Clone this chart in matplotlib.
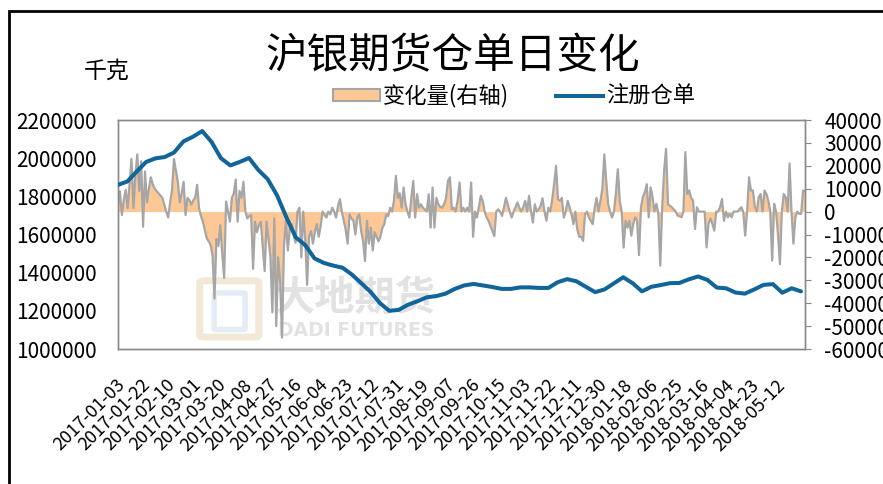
import matplotlib
matplotlib.use('Agg')
import matplotlib.pyplot as plt
import numpy as np
import pandas as pd
from matplotlib.patches import Patch, Rectangle, FancyBboxPatch
from matplotlib.lines import Line2D
from matplotlib.transforms import ScaledTranslation

plt.rcParams['font.family'] = ['Noto Sans CJK SC', 'DejaVu Sans']

# 注册仓单 (kg)
reg_dates = pd.date_range('2017-01-03', periods=74, freq='7D')
reg_values = [1860000, 1878000, 1930000, 1980000, 1999000, 2006000, 2030000, 2088000, 2112000, 2142000,
              2085000, 2000000, 1962000, 1980000, 2001000, 1938000, 1890000, 1805000, 1690000, 1585000,
              1545000, 1475000, 1451000, 1437000, 1426000, 1390000, 1345000, 1299000, 1240000, 1200000,
              1205000, 1232000, 1250000, 1271000, 1277000, 1290000, 1315000, 1333000, 1341000, 1333000,
              1325000, 1315000, 1315000, 1323000, 1323000, 1320000, 1320000, 1350000, 1366000, 1355000,
              1326000, 1298000, 1312000, 1344000, 1376000, 1345000, 1302000, 1326000, 1335000, 1345000,
              1346000, 1365000, 1380000, 1362000, 1322000, 1318000, 1296000, 1290000, 1312000, 1336000,
              1340000, 1295000, 1318000, 1302000]

# 变化量 (kg), one reading per trading day, 2017-01-03 .. 2018-06-01
chg_values = [3000, 8800, -1500, 5000, 9500, 1500, 12000, 23000, 1500, 16000,
              25000, 9000, 22000, -6600, 17500, 4000, 10000, 15000, 12000, 10000,
              9000, 8000, 7000, 6000, 3000, 0, -2600, 4000, 9500, 23000,
              18000, 13000, 4000, 8000, 13000, -1500, 6000, 5000, 3000, 5000,
              6000, 11700, 1500, -2000, -4400, -8000, -11700, -13000, -14600, -19000,
              -38000, -12000, -15000, -6000, -18000, -29000, 4400, 0, -4400, 6000,
              8000, 14000, -4400, 9000, 6000, 13000, 0, -3000, -2000, -1500,
              -25000, -4400, -9000, -6000, -4400, -15000, -26000, -4400, -12000, -20000,
              -44000, -3000, -50000, -20000, -30000, -55000, -15000, -4000, -17000, -8000,
              -5500, -10000, -13600, 0, 1700, -20000, 0, -12000, -32000, -11000,
              -8500, -14000, -9000, -5500, -11000, -6300, 0, -1500, -2600, 0,
              -1200, 1700, 0, -2600, 2500, 5400, 0, -4000, -8000, -14000,
              -1200, -3000, -4000, -10000, -2600, -1200, -8500, -12800, -21600, -4000,
              -14000, -7000, -17000, -9000, -11000, -13000, -11000, -7000, -5500, -1200,
              -2000, 1700, 0, 4700, 15600, 6000, 8000, 1700, 10500, 3200,
              0, -2600, 6000, 13400, -2600, 7600, 1700, 3200, 1700, 1000,
              0, 7600, -7000, 10500, -7000, 6000, 3200, 2000, 1700, 3200,
              6000, 13400, 15000, 1000, 1700, 0, 5000, 12700, 0, 1700,
              0, 1700, 0, 12700, -11000, 0, -2600, 2000, 6900, 4700,
              0, -2600, -4000, -6300, -8500, -10700, 0, 1000, 0, -1900,
              1700, 6000, 3000, 0, -2600, 0, 2000, 4000, 1700, 0,
              2000, 4700, 0, 6900, 0, -4800, 3200, 0, 1000, 2500,
              5800, 0, -4000, 1700, 0, 5400, 12000, 20000, 5400, 4700,
              6000, -2600, 0, 4700, 2000, -1200, -5500, 0, -7700, -11000,
              -11000, -12800, -1200, 0, -2600, -4000, -5500, 1700, 6000, 0,
              4700, 10000, 25000, 13400, 3200, 0, -2600, 0, 8000, 18500,
              4700, 0, -15700, -4000, -7000, -4000, -10500, -5400, -2500, -4000,
              -19000, 2000, 6300, 8500, 12000, -2500, 10600, 6300, 0, 3400,
              -1000, -23600, 1900, 18000, 27400, 3400, 2500, 1900, 1000, 0,
              -1800, -2000, -2500, 0, 26000, 7700, 9200, 6000, 4800, -7600,
              1900, 0, 0, 0, 0, -15600, -5400, -3000, -5400, -8300,
              0, 0, 2000, 5500, -4000, 0, -2500, -1000, -2500, 0,
              0, 0, 1000, 1900, 0, -10500, 0, 15000, 9200, 9200,
              2000, 0, 6300, 7700, 0, 9200, 7700, 4800, 0, -21400,
              3400, 0, -10000, -23000, 0, 7700, 6300, 0, 21000, 0,
              -14000, -2500, 0, -1000, -1000, 9200, 9000]
chg_dates = pd.date_range('2017-01-03', '2018-06-01', periods=len(chg_values))

tick_dates = pd.date_range('2017-01-03', '2018-05-12', freq='19D')
tick_labels = [d.strftime('%Y-%m-%d') for d in tick_dates]
left_ticks = np.arange(1000000, 2200001, 200000)
right_ticks = np.arange(-60000, 40001, 10000)

fig = plt.figure(figsize=(8.83, 4.84), dpi=100)
ax = fig.add_axes([118/883, 1-349/484, 687/883, 229/484])
ax2 = ax.twinx()
ax.set_zorder(ax2.get_zorder() + 1)
ax.patch.set_visible(False)

# watermark
ax2.text(0.345, 0.223, '大地期货', transform=ax2.transAxes, fontsize=29, fontweight='bold',
         color='#e2e2e2', ha='center', va='center', zorder=0)
ax2.text(0.346, 0.079, 'DADI FUTURES', transform=ax2.transAxes, fontsize=13.5, fontweight='bold',
         color='#e2e2e2', ha='center', va='center', zorder=0, family='DejaVu Sans')
ax2.add_patch(FancyBboxPatch((0.127, 0.06), 0.07, 0.23, boxstyle='round,pad=0.008',
                             transform=ax2.transAxes, fc='none', ec='#f1e8d6', lw=5, zorder=0))
ax2.add_patch(FancyBboxPatch((0.145, 0.09), 0.035, 0.15, boxstyle='round,pad=0.005',
                             transform=ax2.transAxes, fc='none', ec='#e4edf5', lw=4, zorder=0))

ax2.fill_between(chg_dates, chg_values, 0, color='#FDC896', lw=0, zorder=1)
ax2.plot(chg_dates, chg_values, color='#A6A6A6', lw=1.6, zorder=2)
ax.plot(reg_dates, reg_values, color='#11659A', lw=2.9, solid_capstyle='round', zorder=3)

ax.set_xlim(pd.Timestamp('2017-01-03'), pd.Timestamp('2018-06-01'))
ax.set_ylim(1000000, 2200000)
ax2.set_ylim(-60000, 40000)
ax.set_yticks(left_ticks)
ax.set_yticklabels([str(v) for v in left_ticks])
ax2.set_yticks(right_ticks)
ax2.set_yticklabels([str(v) for v in right_ticks])
ax.set_xticks(tick_dates)
ax.set_xticklabels(tick_labels, rotation=45, ha='right', va='center', rotation_mode='anchor', fontsize=13)

ax.tick_params(axis='y', labelsize=15, length=0, pad=15)
ax2.tick_params(axis='y', labelsize=15, length=4, pad=10, color='#898989')
ax.tick_params(axis='x', length=0, pad=24)

for a in (ax, ax2):
    for s in a.spines.values():
        s.set_color('#898989')
        s.set_linewidth(1)

for lbl in ax.get_xticklabels():
    lbl.set_transform(lbl.get_transform() + ScaledTranslation(0.04, 0, fig.dpi_scale_trans))

fig.text(453/883, 1-57/484, '沪银期货仓单日变化', fontsize=30, ha='center', va='center')
fig.text(107/883, 1-71/484, '千克', fontsize=16.5, ha='center', va='center')

handles = [Patch(facecolor='#FDC896', edgecolor='#A6A6A6', lw=1.5),
           Line2D([], [], color='#11659A', lw=2.9)]
fig.legend(handles, ['变化量(右轴)', '注册仓单'], loc='center', bbox_to_anchor=(514/883, 1-96/484),
           ncol=2, frameon=False, fontsize=16, handlelength=2.1, handleheight=0.45,
           handletextpad=0.15, columnspacing=2.1)

fig.add_artist(Rectangle((9/883, -0.5), 1.5, 0.5 + 1 - 11/484, transform=fig.transFigure,
                         fill=False, ec='black', lw=2))

fig.savefig('out.png', dpi=100)
